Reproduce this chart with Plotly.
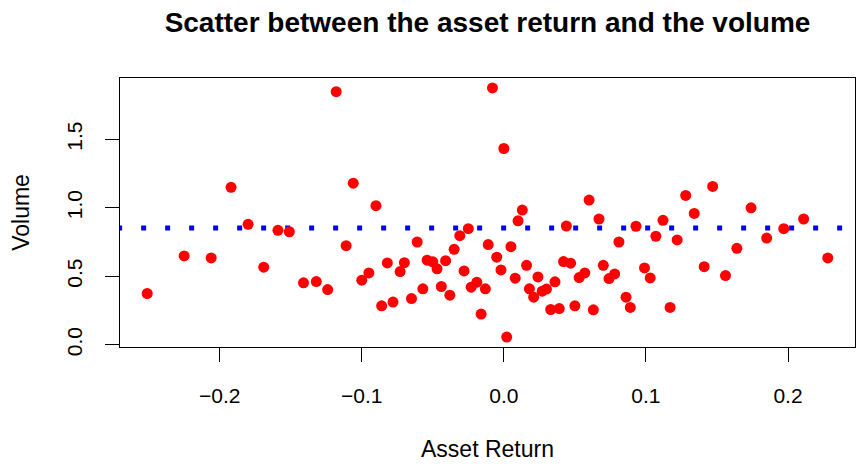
import plotly.graph_objects as go

# values
asset_return = [
    -0.251, -0.225, -0.206, -0.192, -0.180, -0.169, -0.159, -0.151, -0.141, -0.132,
    -0.124, -0.118, -0.111, -0.106, -0.100, -0.095, -0.090, -0.086, -0.082, -0.078,
    -0.073, -0.070, -0.065, -0.061, -0.057, -0.054, -0.050, -0.047, -0.044, -0.041,
    -0.038, -0.035, -0.031, -0.028, -0.025, -0.023, -0.019, -0.016, -0.013, -0.011,
    -0.008, -0.005, -0.002, 0.000, 0.002, 0.005, 0.008, 0.010, 0.013, 0.016,
    0.018, 0.021, 0.024, 0.027, 0.030, 0.033, 0.036, 0.039, 0.042, 0.044,
    0.047, 0.050, 0.053, 0.057, 0.060, 0.063, 0.067, 0.070, 0.074, 0.078,
    0.081, 0.086, 0.089, 0.093, 0.099, 0.103, 0.107, 0.112, 0.117, 0.122,
    0.128, 0.134, 0.141, 0.147, 0.156, 0.164, 0.174, 0.185, 0.197, 0.211,
    0.228,
]
volume = [
    0.374, 0.648, 0.634, 1.149, 0.879, 0.566, 0.835, 0.825, 0.452, 0.461,
    0.403, 1.848, 0.723, 1.180, 0.471, 0.524, 1.015, 0.284, 0.597, 0.311,
    0.534, 0.599, 0.337, 0.750, 0.408, 0.617, 0.605, 0.554, 0.425, 0.614,
    0.362, 0.697, 0.796, 0.539, 0.847, 0.420, 0.457, 0.224, 0.408, 0.731,
    1.875, 0.639, 0.546, 1.433, 0.056, 0.716, 0.486, 0.905, 0.983, 0.580,
    0.408, 0.347, 0.495, 0.391, 0.406, 0.257, 0.459, 0.264, 0.607, 0.867,
    0.595, 0.284, 0.490, 0.524, 1.056, 0.255, 0.918, 0.580, 0.483, 0.517,
    0.750, 0.347, 0.272, 0.865, 0.561, 0.488, 0.792, 0.908, 0.272, 0.765,
    1.090, 0.959, 0.570, 1.156, 0.505, 0.704, 1.000, 0.779, 0.847, 0.918,
    0.634,
]
volume_mean = 0.852

x_ticks = [-0.2, -0.1, 0.0, 0.1, 0.2]
y_ticks = [0.0, 0.5, 1.0, 1.5]

# R style 4% padding around the data
x_pad = (max(asset_return) - min(asset_return)) * 0.04
y_pad = (max(volume) - min(volume)) * 0.04
x_range = [min(asset_return) - x_pad, max(asset_return) + x_pad]
y_range = [min(volume) - y_pad, max(volume) + y_pad]

font = "Liberation Sans, Arial, Helvetica, sans-serif"

fig = go.Figure()

# dotted mean line
fig.add_trace(go.Scatter(
    x=[x_range[0] - 0.002, x_range[1] + 0.002], y=[volume_mean, volume_mean],
    mode="lines", line=dict(color="#0000FF", width=5, dash="5px,19px"),
    hoverinfo="skip", showlegend=False,
))

fig.add_trace(go.Scatter(
    x=asset_return, y=volume, mode="markers",
    marker=dict(color="#FF0000", size=11, line=dict(width=0)),
    showlegend=False,
))

fig.update_layout(
    width=856, height=464,
    margin=dict(l=120, r=1, t=78, b=117),
    paper_bgcolor="white", plot_bgcolor="white",
    font=dict(family=font, size=21, color="black"),
    title=dict(
        text="<b>Scatter between the asset return and the volume</b>",
        x=0.5, xref="paper", y=1 - 22 / 464, yref="container",
        xanchor="center", yanchor="middle",
        font=dict(family=font, size=28, color="black"),
    ),
)

fig.update_xaxes(
    range=x_range, tickvals=x_ticks, ticktext=[f"{v:.1f}".replace("-", "\u2212") for v in x_ticks],
    ticks="outside", ticklen=14, tickwidth=1, tickcolor="black",
    showline=True, mirror=True, linecolor="black", linewidth=1,
    showgrid=False, zeroline=False, ticklabelstandoff=16, automargin=False,
    title=dict(text="Asset Return", standoff=34, font=dict(size=23)),
)
fig.update_yaxes(
    range=y_range, tickvals=y_ticks, ticktext=[f"{v:.1f}" for v in y_ticks],
    tickangle=-90,
    ticks="outside", ticklen=14, tickwidth=1, tickcolor="black",
    showline=True, mirror=True, linecolor="black", linewidth=1,
    showgrid=False, zeroline=False, ticklabelstandoff=15, automargin=False,
    title=dict(text="Volume", standoff=26, font=dict(size=23)),
)

# drop the default 8px body margin so the figure fills the window
fig.write_html("out.html", config={"displayModeBar": False},
               post_script="document.body.style.margin = '0';")
